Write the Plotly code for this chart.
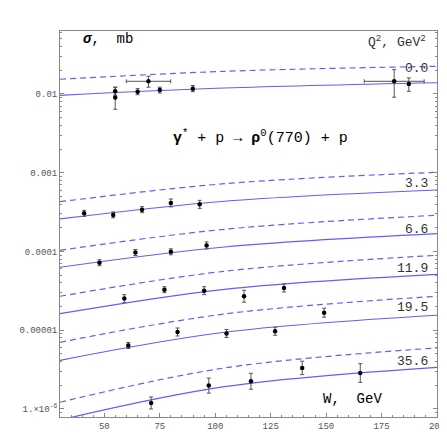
import numpy as np
import plotly.graph_objects as go

# model curves, sampled at the left edge, middle and right edge of the frame
w_curve = [30.0, 104.2, 200.0]
curves_solid = {
    "0.0": [9.63e-3, 1.191e-2, 1.390e-2],
    "3.3": [2.588e-4, 4.345e-4, 6.04e-4],
    "6.6": [6.30e-5, 1.140e-4, 1.683e-4],
    "11.9": [1.622e-5, 3.311e-5, 5.13e-5],
    "19.5": [4.15e-6, 9.42e-6, 1.549e-5],
    "35.6": [7.24e-7, 1.919e-6, 3.38e-6],
}
curves_dashed = {
    "0.0": [1.538e-2, 1.941e-2, 2.249e-2],
    "3.3": [4.285e-4, 7.26e-4, 1.014e-3],
    "6.6": [1.035e-4, 1.914e-4, 2.884e-4],
    "11.9": [2.698e-5, 5.61e-5, 8.95e-5],
    "19.5": [7.03e-6, 1.607e-5, 2.698e-5],
    "35.6": [1.216e-6, 3.32e-6, 5.96e-6],
}

# measured points: W (GeV), sigma (mb), errors
w_q0 = [54.9, 54.9, 65.0, 69.9, 75.0, 89.9, 180.7, 187.3]
sig_q0 = [0.0108, 0.0090, 0.0107, 0.0145, 0.0112, 0.0117, 0.0145, 0.0134]
up_q0 = [0.0014, 0.0032, 0.0010, 0.0023, 0.0010, 0.0011, 0.0059, 0.0026]
dn_q0 = [0.0011, 0.0026, 0.0009, 0.0023, 0.0009, 0.0010, 0.0054, 0.0026]
werr_q0 = [0, 0, 0, 10.0, 0, 0, 13.5, 0]

w_q3 = [40.9, 54.0, 67.0, 80.0, 93.0]
sig_q3 = [3.05e-4, 2.91e-4, 3.40e-4, 4.13e-4, 3.97e-4]
up_q3 = [2.8e-5, 2.7e-5, 3.1e-5, 5.1e-5, 4.9e-5]
dn_q3 = [2.6e-5, 2.4e-5, 2.9e-5, 4.5e-5, 4.4e-5]

w_q6 = [47.8, 64.0, 80.0, 96.1]
sig_q6 = [7.2e-5, 9.7e-5, 9.9e-5, 1.19e-4]
up_q6 = [6.6e-6, 8.9e-6, 9.1e-6, 1.29e-5]
dn_q6 = [6.0e-6, 8.1e-6, 8.3e-6, 1.15e-5]

w_q12 = [59.0, 77.1, 95.0, 113.0, 131.0]
sig_q12 = [2.52e-5, 3.27e-5, 3.18e-5, 2.70e-5, 3.44e-5]
up_q12 = [3.1e-6, 3.0e-6, 3.9e-6, 5.2e-6, 4.3e-6]
dn_q12 = [2.8e-6, 2.7e-6, 3.5e-6, 4.3e-6, 3.8e-6]

w_q20 = [60.8, 83.0, 105.1, 127.0, 149.1]
sig_q20 = [6.4e-6, 9.5e-6, 9.1e-6, 9.7e-6, 1.67e-5]
up_q20 = [5.9e-7, 1.18e-6, 1.13e-6, 1.2e-6, 2.35e-6]
dn_q20 = [5.4e-7, 1.05e-6, 1.0e-6, 1.07e-6, 2.07e-6]

w_q36 = [71.1, 97.1, 116.1, 139.2, 165.4]
sig_q36 = [1.19e-6, 1.98e-6, 2.25e-6, 3.32e-6, 2.86e-6]
up_q36 = [2.3e-7, 4.9e-7, 5.9e-7, 7.2e-7, 9.0e-7]
dn_q36 = [1.9e-7, 3.9e-7, 4.7e-7, 5.9e-7, 6.8e-7]

q2_labels = ["0.0", "3.3", "6.6", "11.9", "19.5", "35.6"]
q2_label_y = [0.0210, 7.26e-4, 1.93e-4, 6.17e-5, 1.97e-5, 4.04e-6]

y_tickvals = [1e-6, 1e-5, 1e-4, 1e-3, 1e-2]
y_ticktext = ["1.×10<sup>-6</sup>", "0.00001", "0.0001", "0.001", "0.01"]
x_tickvals = [50, 75, 100, 125, 150, 175, 200]

blue = "#5f5fff"
mono = "Liberation Mono"

fig = go.Figure()

for q in q2_labels:
    fig.add_trace(go.Scatter(x=w_curve, y=curves_dashed[q], mode="lines",
                             line=dict(color=blue, width=1.2, dash="6px,4px", shape="spline"),
                             showlegend=False, hoverinfo="skip"))
    fig.add_trace(go.Scatter(x=w_curve, y=curves_solid[q], mode="lines",
                             line=dict(color=blue, width=1.2, shape="spline"),
                             showlegend=False, hoverinfo="skip"))

points = [
    (w_q0, sig_q0, up_q0, dn_q0, werr_q0),
    (w_q3, sig_q3, up_q3, dn_q3, None),
    (w_q6, sig_q6, up_q6, dn_q6, None),
    (w_q12, sig_q12, up_q12, dn_q12, None),
    (w_q20, sig_q20, up_q20, dn_q20, None),
    (w_q36, sig_q36, up_q36, dn_q36, None),
]
for w, s, up, dn, werr in points:
    ex = None
    if werr is not None:
        ex = dict(type="data", array=werr, color="#555555", thickness=1, width=2)
    fig.add_trace(go.Scatter(x=w, y=s, mode="markers",
                             marker=dict(color="black", size=4.5),
                             error_y=dict(type="data", symmetric=False, array=up, arrayminus=dn,
                                          color="#555555", thickness=1, width=2),
                             error_x=ex, showlegend=False))

for lab, yv in zip(q2_labels, q2_label_y):
    fig.add_annotation(x=197, y=np.log10(yv), xref="x", yref="y", text=lab,
                       showarrow=False, xanchor="right", yanchor="middle",
                       font=dict(family=mono, size=13, color="#333333"))

fig.add_annotation(x=0.055, y=0.978, xref="paper", yref="paper",
                   text="<b><i>σ</i></b>,  mb", showarrow=False,
                   xanchor="left", yanchor="middle",
                   font=dict(family=mono, size=14, color="black"))
fig.add_annotation(x=0.977, y=0.972, xref="paper", yref="paper",
                   text="Q<sup>2</sup>, GeV<sup>2</sup>", showarrow=False,
                   xanchor="right", yanchor="middle",
                   font=dict(family=mono, size=13, color="#333333"))
fig.add_annotation(x=0.531, y=0.726, xref="paper", yref="paper",
                   text="<b>γ</b><sup>*</sup> + p → <b>ρ</b><sup>0</sup>(770) + p",
                   showarrow=False, xanchor="center", yanchor="middle",
                   font=dict(family=mono, size=15, color="black"))
fig.add_annotation(x=0.691, y=0.047, xref="paper", yref="paper",
                   text="W,  GeV", showarrow=False, xanchor="left", yanchor="middle",
                   font=dict(family=mono, size=14, color="black"))

fig.update_xaxes(range=[30, 200], tickvals=x_tickvals, ticks="inside", ticklen=4,
                 tickcolor="#888888", showline=True, linecolor="#888888", linewidth=1,
                 mirror=True, showgrid=False, zeroline=False,
                 minor=dict(dtick=5, ticks="inside", ticklen=2, tickcolor="#888888"),
                 tickfont=dict(family=mono, size=9, color="#555555"))
fig.update_yaxes(type="log", range=[-6.102, -1.2], tickvals=y_tickvals, ticktext=y_ticktext,
                 ticks="inside", ticklen=4, tickcolor="#888888", showline=True,
                 linecolor="#888888", linewidth=1, mirror="allticks", showgrid=False,
                 zeroline=False,
                 minor=dict(dtick="D1", ticks="inside", ticklen=2, tickcolor="#888888"),
                 tickfont=dict(family=mono, size=9, color="#555555"))

fig.update_layout(width=447, height=447, margin=dict(l=52, r=10, t=23, b=38),
                  paper_bgcolor="white", plot_bgcolor="white", showlegend=False)

fig.write_html("out.html")
